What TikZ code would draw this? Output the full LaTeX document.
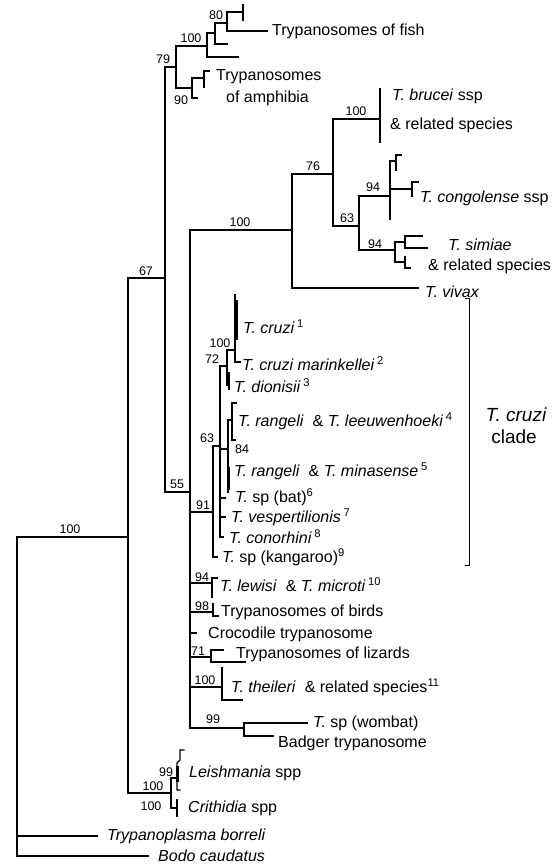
\documentclass[tikz,border=0pt]{standalone}
\usepackage{fontspec}
\setmainfont{Liberation Sans}
\begin{document}
\begin{tikzpicture}[x=1pt, y=-1pt,
    branch/.style={line width=1.2pt, line cap=rect},
    bar/.style={line width=2.2pt},
    boot/.style={inner sep=0pt, font=\fontsize{12.5}{13}\selectfont},
    taxon/.style={anchor=west, inner sep=0pt, font=\fontsize{16}{17}\selectfont}]
  \useasboundingbox (0,0) rectangle (557,864);

  % backbone
  \coordinate (root) at (17,537);
  \coordinate (kin) at (128,537);
  \coordinate (n67) at (165,278);
  \coordinate (n79) at (176,67);
  \coordinate (n55) at (190,492);
  \coordinate (tbor) at (97,836);
  \coordinate (bodo) at (148,856);
  \coordinate (leish) at (171,793);
  \draw[branch] (root) -- (kin);
  \draw[branch] (root) |- (tbor);
  \draw[branch] (root) |- (bodo);
  \draw[branch] (kin) |- (n67);
  \draw[branch] (kin) |- (leish);
  \draw[branch] (n67) |- (n79);
  \draw[branch] (n67) |- (n55);

  % fish and amphibia
  \coordinate (fish) at (207,46);
  \coordinate (fishA) at (215,33);
  \coordinate (fishB) at (227,23);
  \coordinate (amph) at (192,88);
  \draw[branch] (n79) |- (fish);
  \draw[branch] (n79) |- (amph);
  \draw[branch] (fish) |- (fishA);
  \draw[branch] (fish) |- (238,57);
  \draw[branch] (fishA) |- (fishB);
  \draw[branch] (fishA) |- (227,44);
  \draw[branch] (fishB) |- (243,12);
  \draw[branch] (fishB) |- (267,31);
  \draw[branch] (243,5) -- (243,20);
  \draw[branch] (amph) |- (204,78);
  \draw[branch] (amph) |- (197,98);
  \draw[branch] (209,71) -- (204,71) -- (204,87);

  % salivaria
  \coordinate (sal) at (292,230);
  \coordinate (n76) at (333,174);
  \coordinate (brucei) at (380,119);
  \coordinate (n63s) at (359,226);
  \coordinate (cong) at (390,196);
  \coordinate (sim) at (395,250);
  \draw[branch] (n55) |- (sal);
  \draw[branch] (sal) |- (n76);
  \draw[branch] (sal) |- (418,288);
  \draw[branch] (n76) |- (brucei);
  \draw[branch] (n76) |- (n63s);
  \draw[bar] (380,88) -- (380,143);
  \draw[branch] (n63s) |- (cong);
  \draw[branch] (n63s) |- (sim);
  \draw[branch] (cong) |- (396,161);
  \draw[branch] (cong) |- (412,189);
  \draw[branch] (cong) -- (390,219);
  \draw[branch] (401,155) -- (396,155) -- (396,170);
  \draw[branch] (418,182) -- (412,182) -- (412,196);
  \draw[branch] (sim) |- (405,242);
  \draw[branch] (sim) |- (405,262);
  \draw[branch] (422,236) -| (405,248) -- (427,248);
  \draw[branch] (405,257) -- (405,268) -- (410,268);

  % T. cruzi clade
  \coordinate (n91) at (213,512);
  \coordinate (n63) at (220,446);
  \coordinate (n72) at (227,366);
  \coordinate (n84) at (228,449);
  \coordinate (n100c) at (235,350);
  \draw[branch] (n55) |- (n91);
  \draw[branch] (n91) |- (n63);
  \draw[branch] (n91) |- (217,557);
  \draw[branch] (n63) |- (n72);
  \draw[branch] (n63) |- (n84);
  \draw[branch] (n63) |- (225,498);
  \draw[branch] (n63) |- (225,517);
  \draw[branch] (n63) |- (223,537);
  \draw[branch] (n72) |- (n100c);
  \draw[branch] (n72) |- (229,385);
  \draw[branch] (235,295) -- (235,362) -- (240,362);
  \draw[bar] (236.5,300) -- (236.5,340);
  \draw[bar] (229,372) -- (229,390);
  \draw[branch] (n84) |- (232,420);
  \draw[branch] (n84) -- (228,492);
  \draw[branch] (236,403) -| (232,440) -- (235,440);
  \draw[bar] (228.5,467) -- (228.5,490);

  % other trypanosomes
  \coordinate (lew) at (212,583);
  \coordinate (bird) at (213,612);
  \coordinate (liz) at (211,657);
  \coordinate (theil) at (222,687);
  \coordinate (wom) at (244,728);
  \draw[branch] (n55) |- (lew);
  \draw[branch] (n55) |- (bird);
  \draw[branch] (n55) |- (196,633);
  \draw[branch] (n55) |- (liz);
  \draw[branch] (n55) |- (theil);
  \draw[branch] (n55) |- (wom);
  \draw[branch] (217,578) -| (212,597);
  \draw[branch] (213,604) |- (218,616);
  \draw[branch] (liz) |- (223,650);
  \draw[branch] (liz) |- (245,662);
  \draw[branch] (222,668) -- (222,700);
  \draw[bar] (222,678) -- (222,694);
  \draw[branch] (theil) |- (242,700);
  \draw[branch] (wom) |- (307,723);
  \draw[branch] (wom) |- (273,736);

  % Leishmania and Crithidia
  \draw[branch] (leish) |- (177,778);
  \draw[branch] (leish) |- (177,808);
  \draw[branch] (180,790) -- (177,790) -- (177,763) -- (180,760) -- (180,750) -- (184,750);
  \draw[bar] (177.5,766) -- (177.5,782);
  \draw[branch] (177,800) -- (177,816);

  % bracket
  \draw[line width=0.8pt] (465,298) -- (469,298) -- (469,565) -- (465,565);
  \node[font=\fontsize{19}{20}\selectfont\itshape] (cladeA) at (516,415) {T. cruzi};
  \node[font=\fontsize{19}{20}\selectfont] (cladeB) at (514,437) {clade};

  % bootstrap values
  \node[boot] (b80) at (216,15) {80};
  \node[boot] (b100f) at (191,38) {100};
  \node[boot] (b79) at (163,59) {79};
  \node[boot] (b90) at (181,100) {90};
  \node[boot] (b67) at (146,271) {67};
  \node[boot] (b100s) at (240,222) {100};
  \node[boot] (b76) at (313,166) {76};
  \node[boot] (b100b) at (356,111) {100};
  \node[boot] (b94c) at (373,187) {94};
  \node[boot] (b63s) at (347,218) {63};
  \node[boot] (b94s) at (375,244) {94};
  \node[boot] (b55) at (177,484) {55};
  \node[boot] (b100r) at (70,529) {100};
  \node[boot] (b100c) at (220,343) {100};
  \node[boot] (b72) at (212,359) {72};
  \node[boot] (b63) at (207,438) {63};
  \node[boot] (b84) at (242,449) {84};
  \node[boot] (b91) at (203,505) {91};
  \node[boot] (b94l) at (202,577) {94};
  \node[boot] (b98) at (202,606) {98};
  \node[boot] (b71) at (198,651) {71};
  \node[boot] (b100t) at (205,680) {100};
  \node[boot] (b99w) at (213,719) {99};
  \node[boot] (b99l) at (166,772) {99};
  \node[boot] (b100l) at (153,786) {100};
  \node[boot] (b100h) at (151,806) {100};

  % taxa
  \node[taxon] (tfish) at (272,31) {Trypanosomes of fish};
  \node[taxon] (tamph) at (216,77) {Trypanosomes};
  \node[taxon] (tamph2) at (226,98) {of amphibia};
  \node[taxon] (tbru) at (392,96) {\textit{T. brucei} ssp};
  \node[taxon] (tbru2) at (390,125) {\& related species};
  \node[taxon] (tcon) at (420,198) {\textit{T. congolense} ssp};
  \node[taxon] (tsim) at (448,245) {\textit{T. simiae}};
  \node[taxon] (tsim2) at (428,266) {\& related species};
  \node[taxon] (tviv) at (425,292) {\textit{T. vivax}};
  \node[taxon] (t1) at (243,327) {\textit{T. cruzi}\,\textsuperscript{1}};
  \node[taxon] (t2) at (242,364) {\textit{T. cruzi marinkellei}\,\textsuperscript{2}};
  \node[taxon] (t3) at (234,386) {\textit{T. dionisii}\,\textsuperscript{3}};
  \node[taxon] (t4) at (238,421) {\textit{T. rangeli} \ \& \textit{T. leeuwenhoeki}\,\textsuperscript{4}};
  \node[taxon] (t5) at (234,471) {\textit{T. rangeli} \ \& \textit{T. minasense}\,\textsuperscript{5}};
  \node[taxon] (t6) at (235,497) {\textit{T.} sp (bat)\textsuperscript{6}};
  \node[taxon] (t7) at (231,517) {\textit{T. vespertilionis}\,\textsuperscript{7}};
  \node[taxon] (t8) at (229,537) {\textit{T. conorhini}\,\textsuperscript{8}};
  \node[taxon] (t9) at (222,557) {\textit{T.} sp (kangaroo)\textsuperscript{9}};
  \node[taxon] (t10) at (220,585) {\textit{T. lewisi} \ \& \textit{T. microti}\,\textsuperscript{10}};
  \node[taxon] (tbird) at (221,612) {Trypanosomes of birds};
  \node[taxon] (tcroc) at (208,634) {Crocodile trypanosome};
  \node[taxon] (tliz) at (236,654) {Trypanosomes of lizards};
  \node[taxon] (t11) at (231,687) {\textit{T. theileri} \ \& related species\textsuperscript{11}};
  \node[taxon] (twom) at (313,723) {\textit{T.} sp (wombat)};
  \node[taxon] (tbad) at (278,743) {Badger trypanosome};
  \node[taxon] (tlei) at (189,773) {\textit{Leishmania} spp};
  \node[taxon] (tcri) at (188,808) {\textit{Crithidia} spp};
  \node[taxon] (ttbo) at (107,836) {\textit{Trypanoplasma borreli}};
  \node[taxon] (tbod) at (158,856) {\textit{Bodo caudatus}};
\end{tikzpicture}
\end{document}
